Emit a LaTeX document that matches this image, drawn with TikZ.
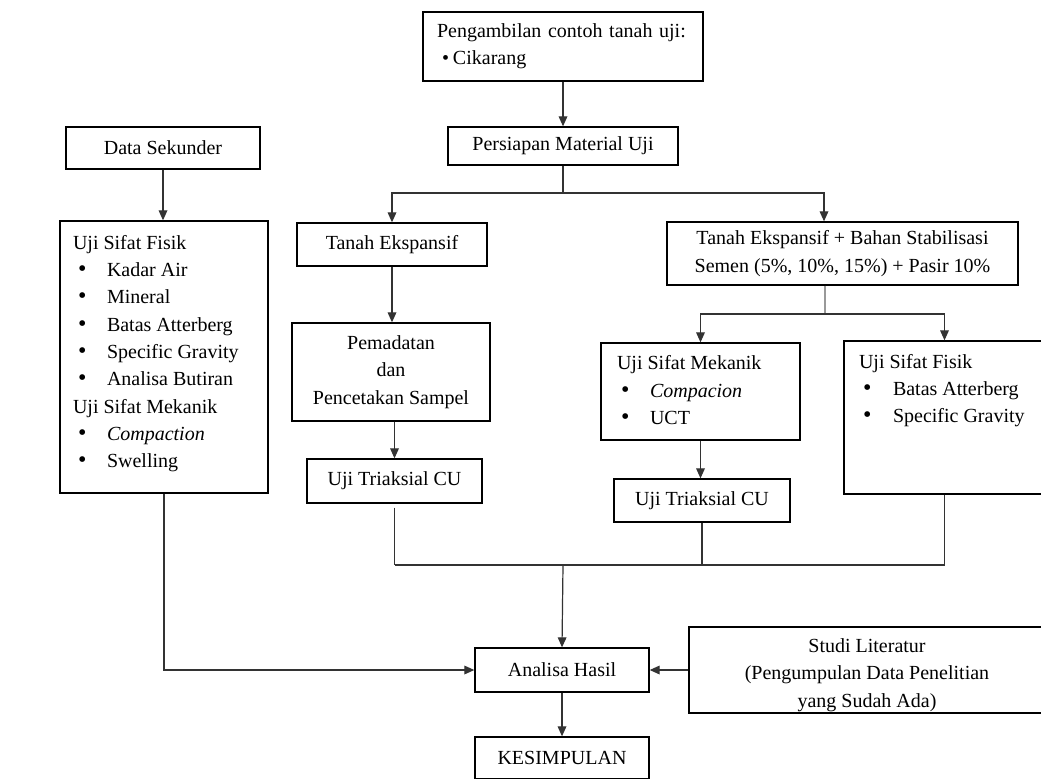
\documentclass[tikz,border=0pt]{standalone}
\usepackage{fontspec}
\setmainfont{Liberation Serif}
\usetikzlibrary{arrows.meta}
\newcommand{\boxfont}{\fontsize{15pt}{20.5pt}\selectfont}
\newcommand{\myitem}[3]{\hspace*{#1}\makebox[#2][l]{\fontsize{18pt}{18pt}\selectfont\textbullet}#3}
\tikzset{
  box/.style={draw=black, line width=1pt, inner sep=0pt, font=\boxfont},
  sz/.style 2 args={minimum width=#1*0.75pt, minimum height=#2*0.75pt},
  ln/.style={draw=black!80, line width=0.9pt},
  lnG/.style={draw=black!40, line width=0.9pt},
  arr/.style={ln, -{Triangle[length=7.5pt,width=6.5pt]}}
}
\begin{document}
\begin{tikzpicture}[x=0.75pt,y=-0.75pt]
\useasboundingbox[fill=white] (0,0) rectangle (1041,778);

\node[box, sz={280}{69}, align=left, text width=189pt] (peng) at (563,46.5)
  {Pengambilan contoh tanah uji:\\\hspace*{3.75pt}\makebox[8.25pt][l]{\textbullet}Cikarang};
\node[box, sz={230}{38}] (pers) at (563,146) {Persiapan Material Uji};
\node[box, sz={194}{42}] (dsek) at (163,148) {Data Sekunder};
\node[box] (fisL) at (164,357) {\parbox[c][204pt][t]{156pt}{\raggedright\leftskip=9.75pt
  \rule{0pt}{21pt}Uji Sifat Fisik\\
  \myitem{3.75pt}{21.75pt}{Kadar Air}\\
  \myitem{3.75pt}{21.75pt}{Mineral}\\
  \myitem{3.75pt}{21.75pt}{Batas Atterberg}\\
  \myitem{3.75pt}{21.75pt}{Specific Gravity}\\
  \myitem{3.75pt}{21.75pt}{Analisa Butiran}\\
  Uji Sifat Mekanik\\
  \myitem{3.75pt}{21.75pt}{\textit{Compaction}}\\
  \myitem{3.75pt}{21.75pt}{Swelling}}};
\node[box, sz={190}{43}] (tanah) at (392,244.5) {Tanah Ekspansif};
\node[box, sz={198}{98}, align=center] (pemad) at (391,372) {Pemadatan\\dan\\Pencetakan Sampel};
\node[box, sz={175}{44}] (triL) at (394.5,481) {Uji Triaksial CU};
\node[box, sz={351}{63}, align=center] (tanahB) at (842.5,253.5)
  {Tanah Ekspansif + Bahan Stabilisasi\\Semen (5\%, 10\%, 15\%) + Pasir 10\%};
\node[box] (mek) at (700.5,391.5) {\parbox[c][72.75pt][t]{149.25pt}{\raggedright\leftskip=12pt
  \rule{0pt}{20pt}Uji Sifat Mekanik\\
  \myitem{3pt}{21.75pt}{\textit{Compacion}}\\
  \myitem{3pt}{21.75pt}{UCT}}};
\node[box] (fisR) at (944.5,417.5) {\parbox[c][114.75pt][t]{150.75pt}{\raggedright\leftskip=11.25pt
  \rule{0pt}{20.25pt}Uji Sifat Fisik\\
  \myitem{3pt}{22.5pt}{Batas Atterberg}\\
  \myitem{3pt}{22.5pt}{Specific Gravity}}};
\node[box, sz={176}{43}] (triR) at (702,500.5) {Uji Triaksial CU};
\node[box, sz={174}{44}] (anal) at (562,670) {Analisa Hasil};
\node[box, sz={356}{86}, align=center] (studi) at (867,670)
  {\rule{0pt}{18pt}Studi Literatur\\(Pengumpulan Data Penelitian\\yang Sudah Ada)};
\node[box, sz={174}{42}] (kes) at (562,758) {KESIMPULAN};

\coordinate (j1) at (563,193);
\coordinate (jR) at (824,193);
\coordinate (j2) at (825,314);
\coordinate (j3) at (563,565);

\draw[arr] (peng.south) -- (pers.north);
\draw[ln] (pers.south) -- (j1);
\draw[arr] (j1) -| (tanah.north);
\draw[arr] (j1) -- (jR) -- (jR |- tanahB.north);
\draw[arr] (dsek.south) -- (dsek.south |- fisL.north);
\draw[arr] (tanah.south) -- (tanah.south |- pemad.north);
\draw[arr] (triL.north |- pemad.south) -- (triL.north);
\draw[lnG] (j2 |- tanahB.south) -- (j2);
\draw[arr] (j2) -| (mek.north);
\draw[arr] (j2) -| (fisR.north);
\draw[arr] (mek.south) -- (mek.south |- triR.north);
\draw[ln, shorten <=3pt] (triL.south) -- (triL.south |- j3);
\draw[ln] (triR.south) -- (triR.south |- j3);
\draw[ln] (fisR.south) -- (fisR.south |- j3);
\draw[ln] (triL.south |- j3) -- (fisR.south |- j3);
\draw[arr] (j3) -- (anal.north);
\draw[arr] (fisL.south) |- (anal.west);
\draw[arr] (studi.west) -- (anal.east);
\draw[arr] (anal.south) -- (kes.north);
\end{tikzpicture}
\end{document}
